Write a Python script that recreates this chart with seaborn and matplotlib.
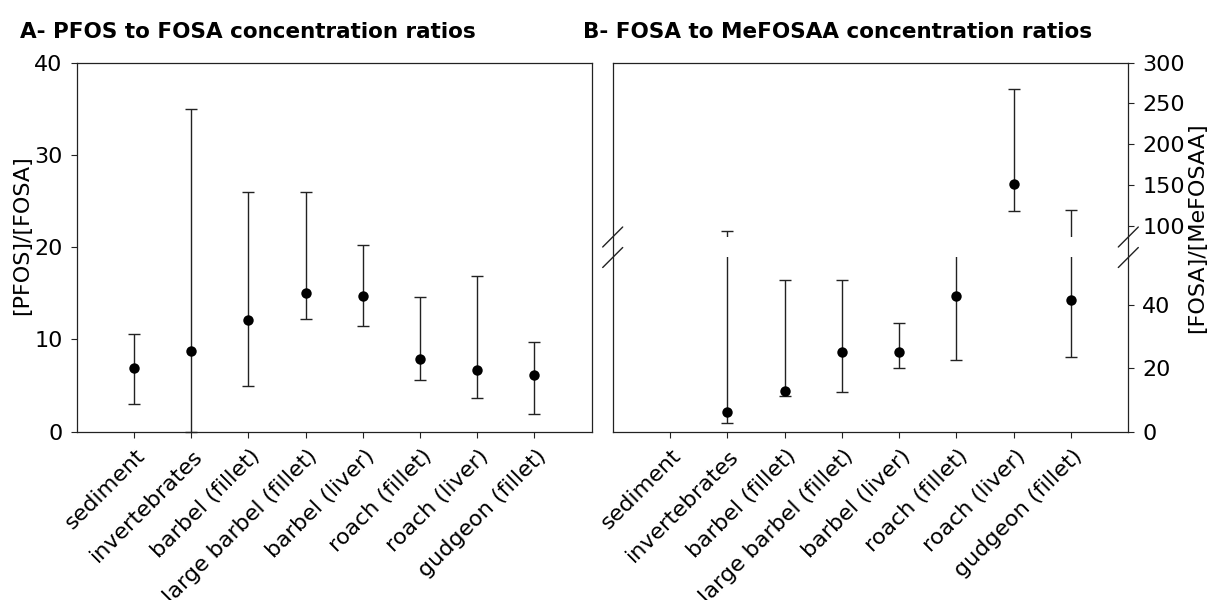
import numpy as np
import pandas as pd
import matplotlib.pyplot as plt
import seaborn as sns
from matplotlib.lines import Line2D
from matplotlib.transforms import ScaledTranslation

sns.set_style("white")
plt.rcParams['font.family'] = ['DejaVu Sans']
plt.rcParams['text.color'] = 'black'
plt.rcParams['xtick.color'] = 'black'
plt.rcParams['ytick.color'] = 'black'

# ---------- data ----------
categories = ['sediment', 'invertebrates', 'barbel (fillet)', 'large barbel (fillet)',
              'barbel (liver)', 'roach (fillet)', 'roach (liver)', 'gudgeon (fillet)']

# A - [PFOS]/[FOSA]
pfos_fosa_mid = [6.9, 8.8, 12.1, 15.0, 14.7, 7.9, 6.7, 6.1]
pfos_fosa_low = [3.0, 0.0, 4.9, 12.2, 11.5, 5.6, 3.7, 1.9]
pfos_fosa_high = [10.6, 35.0, 26.0, 26.0, 20.2, 14.6, 16.9, 9.7]

# B - [FOSA]/[MeFOSAA] (no value for sediment)
fosa_mefosaa_mid = [np.nan, 6.3, 12.9, 25.2, 25.1, 42.8, 151.4, 41.6]
fosa_mefosaa_low = [np.nan, 2.6, 11.4, 12.4, 20.0, 22.6, 117.6, 23.7]
fosa_mefosaa_high = [np.nan, 94.0, 47.9, 47.9, 34.4, 70.0, 267.8, 119.2]

W, H = 1213, 600
fig = plt.figure(figsize=(W / 100, H / 100), dpi=100)

TICK_FS = 16
LINE_COL = '#222222'


def px(x0, y_top, x1, y_bot):
    # pixel box -> figure fraction rect
    return [x0 / W, 1 - y_bot / H, (x1 - x0) / W, (y_bot - y_top) / H]


def draw_points(ax, mid, low, high, clip=True):
    df = pd.DataFrame({'cat': categories, 'val': mid})
    sns.stripplot(data=df, x='cat', y='val', order=categories, jitter=False,
                  color='black', size=7.5, ax=ax, zorder=3)
    mid = np.array(mid, dtype=float)
    err = [mid - np.array(low, dtype=float), np.array(high, dtype=float) - mid]
    ax.errorbar(np.arange(len(categories)), mid, yerr=err, fmt='none',
                ecolor=LINE_COL, elinewidth=1.0, capsize=4.5, capthick=1.0,
                clip_on=clip, zorder=2)
    ax.set_xlim(-1, len(categories))
    ax.set_xlabel('')
    ax.set_ylabel('')


def style_xticks(ax):
    ax.tick_params(axis='x', direction='out', length=4, width=0.8,
                   color=LINE_COL, labelsize=TICK_FS, pad=2)
    ax.set_xticks(range(len(categories)))
    ax.set_xticklabels(categories, rotation=45, ha='right', va='center',
                       rotation_mode='anchor')
    shift = ScaledTranslation(6 / 72, -9 / 72, fig.dpi_scale_trans)
    for lab in ax.get_xticklabels():
        lab.set_transform(lab.get_transform() + shift)


# ---------- panel A ----------
axA = fig.add_axes(px(76.7, 62.7, 591.7, 431.7))
draw_points(axA, pfos_fosa_mid, pfos_fosa_low, pfos_fosa_high, clip=False)
axA.set_ylim(0, 40)
axA.set_yticks([0, 10, 20, 30, 40])
axA.tick_params(axis='y', direction='out', length=4, width=0.8,
                color=LINE_COL, labelsize=TICK_FS, pad=6, left=True)
axA.tick_params(axis='x', bottom=True)
style_xticks(axA)
for s in axA.spines.values():
    s.set_color(LINE_COL)
    s.set_linewidth(0.9)

# ---------- panel B (broken y axis) ----------
xb0, xb1 = 612.7, 1128.3
frame = fig.add_axes(px(xb0, 62.7, xb1, 431.7))
frame.set_xticks([])
frame.set_yticks([])
for s in frame.spines.values():
    s.set_color(LINE_COL)
    s.set_linewidth(0.9)

ax_lo = fig.add_axes(px(xb0, 257.3, xb1, 431.7))
ax_hi = fig.add_axes(px(xb0, 62.7, xb1, 236.7))
for ax in (ax_lo, ax_hi):
    ax.patch.set_alpha(0)
    draw_points(ax, fosa_mefosaa_mid, fosa_mefosaa_low, fosa_mefosaa_high)
    for s in ax.spines.values():
        s.set_visible(False)
    ax.yaxis.tick_right()
    ax.tick_params(axis='y', direction='out', length=4, width=0.8,
                   color=LINE_COL, labelsize=TICK_FS, pad=6, right=True, left=False)

ax_lo.set_ylim(0, 55.1)
ax_lo.set_yticks([0, 20, 40])
ax_lo.tick_params(axis='x', bottom=True)
style_xticks(ax_lo)

ax_hi.set_ylim(86.5, 300)
ax_hi.set_yticks([100, 150, 200, 250, 300])
ax_hi.set_xticks([])

# break marks on both side spines
for xs in (xb0, xb1):
    for yc in (237.0, 257.5):
        fig.add_artist(Line2D([(xs - 10) / W, (xs + 10) / W],
                              [1 - (yc + 10) / H, 1 - (yc - 10) / H],
                              transform=fig.transFigure, color=LINE_COL, lw=1.0))

# ---------- labels and titles ----------
fig.text(22 / W, 1 - 235 / H, '[PFOS]/[FOSA]', rotation=90, ha='center',
         va='center', fontsize=TICK_FS)
fig.text(1197 / W, 1 - 228 / H, '[FOSA]/[MeFOSAA]', rotation=90, ha='center',
         va='center', fontsize=TICK_FS)
fig.text(20 / W, 1 - 32 / H, 'A- PFOS to FOSA concentration ratios',
         ha='left', va='center', fontsize=15.5, fontweight='bold')
fig.text(583 / W, 1 - 32 / H, 'B- FOSA to MeFOSAA concentration ratios',
         ha='left', va='center', fontsize=15.5, fontweight='bold')

fig.savefig('out.png', dpi=100)
